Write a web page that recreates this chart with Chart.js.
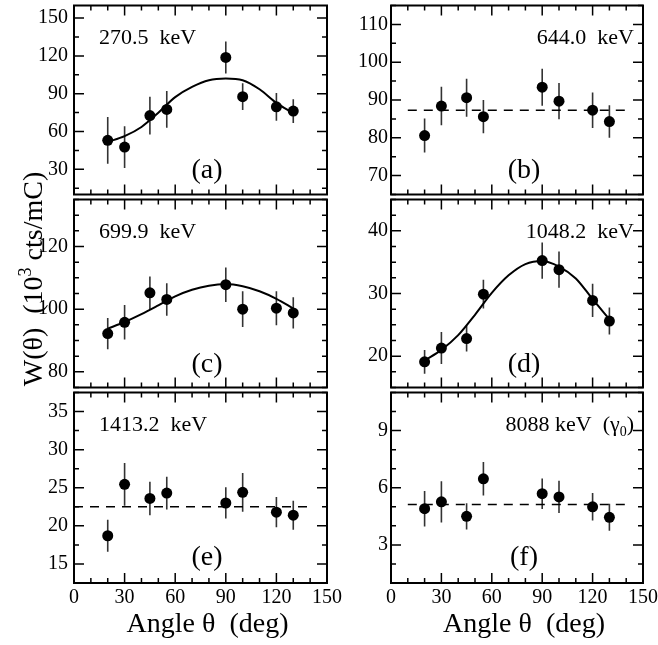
<!DOCTYPE html>
<html lang="en">
<head>
<meta charset="UTF-8">
<title>W(theta) angular distributions</title>
<script src="https://cdn.jsdelivr.net/npm/chart.js"></script>
<style>
  body { margin: 0; background: #fff; }
  #wrap { position: relative; width: 658px; height: 645px; overflow: hidden; background: #fff; }
  #wrap canvas { position: absolute; }
  #ytitle {
    position: absolute; left: -119px; top: 265px; width: 300px; height: 28px;
    line-height: 28px; text-align: center; white-space: pre;
    font: 28px "Liberation Serif", serif; color: #000;
    transform: rotate(-90deg);
  }
  #ytitle sup { font-size: 18px; vertical-align: baseline; position: relative; top: -11px; }
</style>
</head>
<body>
<div id="wrap">
  <canvas id="pa" width="360" height="200" style="left:0;top:0"></canvas>
  <canvas id="pb" width="328" height="200" style="left:330px;top:0"></canvas>
  <canvas id="pc" width="360" height="199" style="left:0;top:194px"></canvas>
  <canvas id="pd" width="328" height="199" style="left:330px;top:194px"></canvas>
  <canvas id="pe" width="360" height="258" style="left:0;top:387px"></canvas>
  <canvas id="pf" width="328" height="258" style="left:330px;top:387px"></canvas>
  <div id="ytitle">W(θ)  (10<sup>3</sup> cts/mC)</div>
</div>
<script>
// measured angles (deg), shared by all six lines
var angles = [20, 30, 45, 55, 90, 100, 120, 130];
var xTicks = [0, 30, 60, 90, 120, 150];
var fitAngles = [20, 30, 40, 50, 60, 70, 80, 90, 100, 110, 120, 130];

// (a) 270.5 keV
var wA = [53.0, 47.6, 72.6, 77.5, 118.8, 87.6, 79.6, 76.2];
var errA = [18.5, 16.5, 15.0, 14.6, 12.7, 10.6, 11.0, 9.4];
var fitA = [51.7, 56.3, 63.6, 74.9, 87.3, 95.4, 100.7, 102.0, 100.7, 93.5, 82.7, 74.4];
var ticksA = [30, 60, 90, 120, 150];

// (b) 644.0 keV
var wB = [80.6, 88.4, 90.6, 85.6, 93.4, 89.7, 87.3, 84.3];
var errB = [4.5, 5.1, 5.0, 4.4, 4.9, 4.8, 4.7, 4.3];
var meanB = 87.3;
var ticksB = [70, 80, 90, 100, 110];

// (c) 699.9 keV
var wC = [92.2, 95.8, 105.2, 103.1, 107.8, 100.0, 100.3, 98.8];
var errC = [5.0, 5.5, 5.2, 5.2, 5.5, 5.7, 5.4, 5.0];
var fitC = [93.8, 95.9, 98.4, 101.2, 104.1, 106.2, 107.5, 108.0, 107.3, 105.7, 103.3, 100.2];
var ticksC = [80, 100, 120];

// (d) 1048.2 keV
var wD = [19.1, 21.3, 22.8, 29.9, 35.25, 33.8, 28.9, 25.6];
var errD = [1.9, 2.55, 2.05, 2.3, 2.9, 2.9, 2.65, 2.15];
var fitD = [19.3, 21.0, 23.35, 26.6, 30.1, 32.9, 34.7, 35.2, 34.3, 32.4, 29.1, 25.9];
var ticksD = [20, 30, 40];

// (e) 1413.2 keV
var wE = [18.7, 25.45, 23.6, 24.3, 23.0, 24.4, 21.8, 21.4];
var errE = [2.1, 2.8, 2.2, 2.15, 2.05, 2.55, 2.0, 1.9];
var meanE = 22.5;
var ticksE = [15, 20, 25, 30, 35];

// (f) 8088 keV ground-state line
var wF = [4.90, 5.26, 4.50, 6.47, 5.69, 5.52, 5.00, 4.45];
var errF = [0.93, 1.08, 0.69, 0.88, 0.80, 0.85, 0.72, 0.71];
var meanF = 5.12;
var ticksF = [3, 6, 9];

var SERIF = '"Liberation Serif", serif';
Chart.defaults.font.family = SERIF;
Chart.defaults.color = '#000';

function pts(xs, ys) {
  return xs.map(function (x, i) { return { x: x, y: ys[i] }; });
}

// draws text pieces left to right; a piece can be smaller and shifted down (subscript)
function drawRuns(ctx, runs, x, y, align) {
  var total = 0;
  runs.forEach(function (r) {
    ctx.font = r.size + 'px ' + SERIF;
    r.w = ctx.measureText(r.t).width;
    total += r.w;
  });
  var cx = align === 'right' ? x - total : (align === 'center' ? x - total / 2 : x);
  ctx.textAlign = 'left';
  ctx.textBaseline = 'alphabetic';
  runs.forEach(function (r) {
    ctx.font = r.size + 'px ' + SERIF;
    ctx.fillText(r.t, cx, y + (r.dy || 0));
    cx += r.w;
  });
}

// error bars under the markers, then frame, inward ticks and the panel texts
var panelPlugin = {
  id: 'panel',
  beforeDatasetsDraw: function (chart, args, o) {
    var ctx = chart.ctx, xs = chart.scales.x, ys = chart.scales.y;
    ctx.save();
    ctx.strokeStyle = '#333';
    ctx.lineWidth = 1.6;
    ctx.beginPath();
    o.vals.forEach(function (v, i) {
      var px = xs.getPixelForValue(angles[i]);
      ctx.moveTo(px, ys.getPixelForValue(v + o.errs[i]));
      ctx.lineTo(px, ys.getPixelForValue(v - o.errs[i]));
    });
    ctx.stroke();
    ctx.restore();
  },
  afterDatasetsDraw: function (chart, args, o) {
    var ctx = chart.ctx, a = chart.chartArea, xs = chart.scales.x, ys = chart.scales.y;
    ctx.save();
    ctx.strokeStyle = '#000';
    ctx.lineWidth = 1.5;
    ctx.beginPath();
    var v, p, len;
    for (v = 0; v <= 150; v += 10) {
      p = xs.getPixelForValue(v);
      len = xTicks.indexOf(v) >= 0 ? 10 : 5;
      ctx.moveTo(p, a.bottom); ctx.lineTo(p, a.bottom - len);
      ctx.moveTo(p, a.top); ctx.lineTo(p, a.top + len);
    }
    for (v = Math.ceil(ys.min / o.minor) * o.minor; v <= ys.max + 1e-9; v += o.minor) {
      p = ys.getPixelForValue(v);
      len = o.yTicks.some(function (t) { return Math.abs(t - v) < 1e-6; }) ? 10 : 5;
      ctx.moveTo(a.left, p); ctx.lineTo(a.left + len, p);
      ctx.moveTo(a.right, p); ctx.lineTo(a.right - len, p);
    }
    ctx.stroke();
    ctx.lineWidth = 2;
    ctx.strokeRect(a.left, a.top, a.right - a.left, a.bottom - a.top);

    ctx.fillStyle = '#000';
    if (o.align === 'left') {
      drawRuns(ctx, o.label, a.left + 25, a.top + 38, 'left');
    } else {
      drawRuns(ctx, o.label, a.right - 9, a.top + 38, 'right');
    }
    drawRuns(ctx, [{ t: o.tag, size: 28 }], a.left + 133, a.top + 172, 'center');
    if (o.xTitle) {
      drawRuns(ctx, [{ t: 'Angle θ  (deg)', size: 28 }], (a.left + a.right) / 2 + 7, a.bottom + 49, 'center');
    }
    ctx.restore();
  }
};

function makePanel(p) {
  var datasets = [{
    type: 'scatter',
    data: pts(angles, p.vals),
    pointRadius: 5.5,
    pointBackgroundColor: '#000',
    pointBorderColor: '#000',
    pointBorderWidth: 0
  }];
  if (p.fit) {
    datasets.push({
      type: 'line',
      data: pts(fitAngles, p.fit),
      borderColor: '#000',
      borderWidth: 2,
      pointRadius: 0,
      cubicInterpolationMode: 'monotone'
    });
  }
  if (p.mean !== undefined) {
    datasets.push({
      type: 'line',
      data: pts(p.meanSpan, [p.mean, p.mean]),
      borderColor: '#000',
      borderWidth: 1.6,
      borderDash: [9, 7],
      pointRadius: 0
    });
  }
  var bottomRow = !!p.xTitle;
  new Chart(document.getElementById(p.id), {
    data: { datasets: datasets },
    options: {
      responsive: false,
      animation: false,
      events: [],
      layout: { padding: { top: p.padTop, right: p.padRight, bottom: bottomRow ? 0 : 3, left: 0 } },
      plugins: {
        legend: { display: false },
        tooltip: { enabled: false },
        panel: {
          vals: p.vals, errs: p.errs, yTicks: p.yTicks, minor: p.minor,
          label: p.label, align: p.align, tag: p.tag, xTitle: bottomRow
        }
      },
      scales: {
        x: {
          type: 'linear', min: 0, max: 150,
          display: bottomRow,
          afterBuildTicks: function (s) { s.ticks = xTicks.map(function (t) { return { value: t }; }); },
          afterFit: function (s) {
            s.height = bottomRow ? 62 : 0;
            s.paddingLeft = 0; s.paddingRight = 0;
          },
          grid: { display: false, drawTicks: false },
          border: { display: false },
          ticks: { font: { size: 20 }, padding: 3, maxRotation: 0, autoSkip: false }
        },
        y: {
          type: 'linear', min: p.yMin, max: p.yMax,
          afterBuildTicks: function (s) { s.ticks = p.yTicks.map(function (t) { return { value: t }; }); },
          afterFit: function (s) {
            s.width = p.yWidth;
            s.paddingTop = 0; s.paddingBottom = 0;
          },
          grid: { display: false, drawTicks: false },
          border: { display: false },
          ticks: { font: { size: 20 }, padding: p.yPad, autoSkip: false }
        }
      }
    },
    plugins: [panelPlugin]
  });
}

var LEFT = { yWidth: 74, yPad: 6, padRight: 33, align: 'left' };
var RIGHT = { yWidth: 61, yPad: 3, padRight: 15, align: 'right' };

function panel(col, extra) {
  return makePanel(Object.assign({}, col, extra));
}

panel(LEFT, { id: 'pa', vals: wA, errs: errA, fit: fitA, yMin: 10, yMax: 160, yTicks: ticksA, minor: 15,
  padTop: 4, tag: '(a)', label: [{ t: '270.5  keV', size: 22 }] });
panel(RIGHT, { id: 'pb', vals: wB, errs: errB, mean: meanB, meanSpan: [10, 140], yMin: 65, yMax: 115, yTicks: ticksB, minor: 5,
  padTop: 4, tag: '(b)', label: [{ t: '644.0  keV', size: 22 }] });
panel(LEFT, { id: 'pc', vals: wC, errs: errC, fit: fitC, yMin: 75, yMax: 135, yTicks: ticksC, minor: 5,
  padTop: 3, tag: '(c)', label: [{ t: '699.9  keV', size: 22 }] });
panel(RIGHT, { id: 'pd', vals: wD, errs: errD, fit: fitD, yMin: 15, yMax: 45, yTicks: ticksD, minor: 2.5,
  padTop: 3, tag: '(d)', label: [{ t: '1048.2  keV', size: 22 }] });
panel(LEFT, { id: 'pe', vals: wE, errs: errE, mean: meanE, meanSpan: [0, 140], yMin: 12.5, yMax: 37.5, yTicks: ticksE, minor: 2.5,
  padTop: 3, tag: '(e)', xTitle: true, label: [{ t: '1413.2  keV', size: 22 }] });
panel(RIGHT, { id: 'pf', vals: wF, errs: errF, mean: meanF, meanSpan: [10, 140], yMin: 1, yMax: 11, yTicks: ticksF, minor: 1,
  padTop: 3, tag: '(f)', xTitle: true,
  label: [{ t: '8088 keV  (γ', size: 22 }, { t: '0', size: 14, dy: 5 }, { t: ')', size: 22 }] });
</script>
</body>
</html>
